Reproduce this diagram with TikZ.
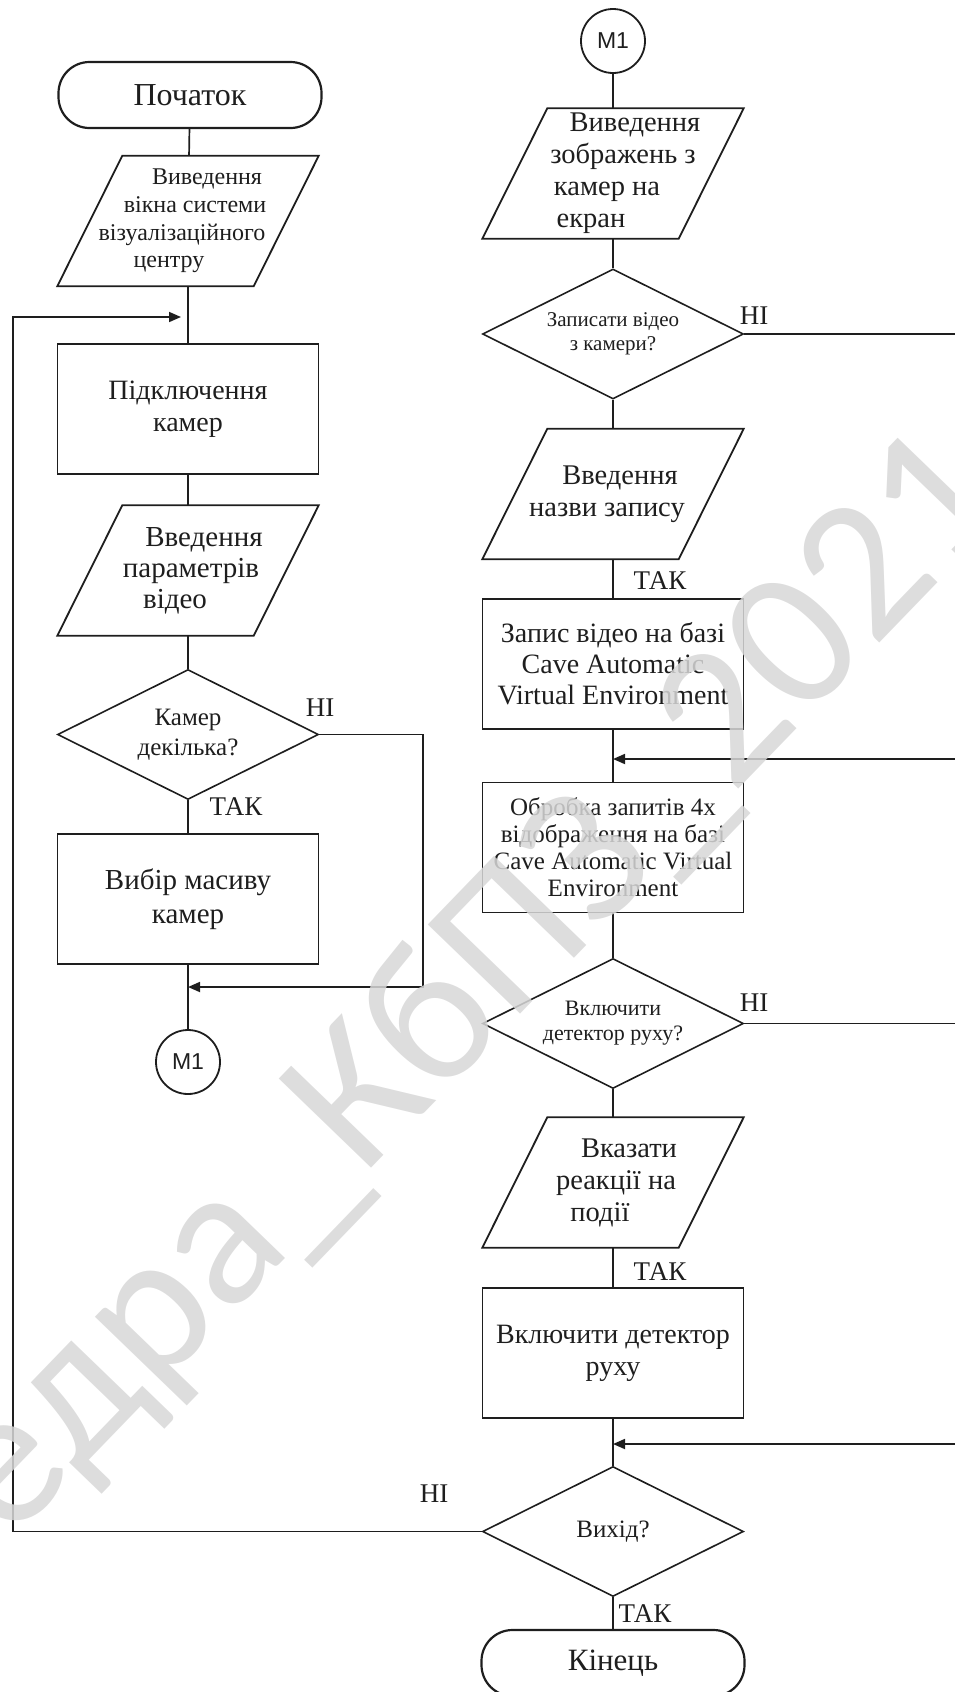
\documentclass[tikz,border=0pt]{standalone}
\usepackage{fontspec}
\setmainfont{Liberation Serif}
\newfontfamily\mfont{Liberation Sans}
\newfontfamily\wmfont{Carlito}
\usetikzlibrary{shapes.geometric,arrows.meta}
\definecolor{ink}{RGB}{30,30,30}
\definecolor{wmc}{RGB}{215,215,215}
\newcommand\sk[2]{\hbox{\kern#1pt\relax#2\kern-#1pt\relax}}
\begin{document}
\begin{tikzpicture}[x=1pt,y=-1pt,
  ln/.style={draw=ink, line width=1.8pt, text=ink},
  term/.style={ln, line width=2.2pt, rectangle, rounded corners=31pt, minimum width=263pt, minimum height=66pt, inner sep=0pt, font=\fontsize{32}{36}\selectfont},
  proc/.style={ln, rectangle, minimum width=261pt, minimum height=130pt, inner sep=0pt, align=center},
  io/.style={rectangle, text=ink, minimum width=261pt, minimum height=130pt, inner sep=0pt, align=center},
  dec/.style={ln, line width=1.6pt, diamond, aspect=2, minimum width=261pt, minimum height=130pt, inner sep=0pt, align=center},
  conn/.style={ln, circle, minimum size=64pt, inner sep=0pt, font=\mfont\fontsize{23}{26}\selectfont},
  lab/.style={text=ink, inner sep=0pt, font=\fontsize{27}{30}\selectfont},
  wire/.style={draw=ink, line width=1.7pt},
  arr/.style={wire, -{Triangle[length=12pt,width=10pt]}},
  f28/.style={font=\fontsize{28.5}{32}\selectfont},
]
\useasboundingbox (0,0) rectangle (955,1692);
\clip (0,0) rectangle (955,1692);

% left column
\node[term] (start) at (190,95) {Початок};
\node[io, font=\fontsize{24}{27.7}\selectfont] (p1) at (188,221)
  {\sk{19}{Виведення}\\\sk{7}{вікна системи}\\\sk{-6}{візуалізаційного}\\\sk{-19}{центру}};
\node[proc, font=\fontsize{28}{32}\selectfont] (r1) at (188,409) {Підключення\\камер};
\node[io, font=\fontsize{29}{31}\selectfont] (p2) at (188,570.5)
  {\sk{16}{Введення}\\\sk{3}{параметрів}\\\sk{-13}{відео}};
\node[dec, font=\fontsize{25}{30}\selectfont] (d1) at (188,734.5) {Камер\\декілька?};
\node[proc, font=\fontsize{29}{34}\selectfont] (r2) at (188,899) {Вибір масиву\\камер};
\node[conn] (m1) at (188,1062) {M1};

% right column
\node[conn] (m1t) at (613,41) {M1};
\node[io, f28] (p3) at (613,173.5)
  {\sk{22}{Виведення}\\\sk{10}{зображень з}\\\sk{-6}{камер на}\\\sk{-22}{екран}};
\node[dec, font=\fontsize{21}{24}\selectfont] (d2) at (613,334) {Записати відео\\з камери?};
\node[io, f28] (p4) at (613,494) {\sk{7}{Введення}\\\sk{-6}{назви запису}};
\node[proc, font=\fontsize{28}{31}\selectfont] (r3) at (613,664)
  {Запис відео на базі\\Cave Automatic\\Virtual Environment};
\node[proc, font=\fontsize{25}{27}\selectfont] (r4) at (613,847.5)
  {Обробка запитів 4х\\відображення на базі\\Cave Automatic Virtual\\Environment};
\node[dec, font=\fontsize{22}{25}\selectfont] (d3) at (613,1023.5) {Включити\\детектор руху?};
\node[io, f28] (p5) at (613,1182.5) {\sk{16}{Вказати}\\\sk{3}{реакції на}\\\sk{-13}{події}};
\node[proc, font=\fontsize{28}{32}\selectfont] (r5) at (613,1353) {Включити детектор\\руху};
\node[dec, font=\fontsize{25}{28}\selectfont] (d4) at (613,1531.5) {Вихід?};
\node[term, font=\fontsize{31}{35}\selectfont] (fin) at (613,1663) {Кінець};

% parallelogram outlines
\foreach \n in {p1,p2,p3,p4,p5}
  \draw[ln] ([xshift=65pt]\n.north west) -- (\n.north east) -- ([xshift=-65pt]\n.south east) -- (\n.south west) -- cycle;

% junction and bend points
\coordinate (j1) at (188,317);
\coordinate (j2) at (188,987);
\coordinate (j3) at (613,759);
\coordinate (j4) at (613,1444);
\coordinate (lb) at (13,1531.5);
\coordinate (lt) at (13,317);
\coordinate (c1) at (423,734.5);
\coordinate (c2) at (423,987);
\coordinate (c3) at (975,334);
\coordinate (c4) at (975,759);
\coordinate (c5) at (975,1023.5);
\coordinate (c6) at (975,1444);

% straight connectors
\draw[wire] (start) -- (p1);
\draw[wire] (p1) -- (r1);
\draw[wire] (r1) -- (p2);
\draw[wire] (p2) -- (d1);
\draw[wire] (d1) -- (r2);
\draw[wire] (r2) -- (m1);
\draw[wire] (m1t) -- (p3);
\draw[wire] (p3) -- (d2);
\draw[wire] (d2) -- (p4);
\draw[wire] (p4) -- (r3);
\draw[wire] (r3) -- (r4);
\draw[wire] (r4) -- (d3);
\draw[wire] (d3) -- (p5);
\draw[wire] (p5) -- (r5);
\draw[wire] (r5) -- (d4);
\draw[wire] (d4) -- (fin);

% loops
\draw[arr, shorten >=7pt] (d4.west) -- (lb) -- (lt) -- (j1);
\draw[arr] (d1.east) -- (c1) -- (c2) -- (j2);
\draw[arr] (d2.east) -- (c3) -- (c4) -- (j3);
\draw[arr] (d3.east) -- (c5) -- (c6) -- (j4);

% labels
\node[lab] (l1) at (320,708) {НІ};
\node[lab] (l2) at (236,807) {ТАК};
\node[lab] (l3) at (754,316) {НІ};
\node[lab] (l4) at (660,581) {ТАК};
\node[lab] (l5) at (754,1003) {НІ};
\node[lab] (l6) at (660,1272) {ТАК};
\node[lab] (l7) at (434,1494) {НІ};
\node[lab] (l8) at (645,1614) {ТАК};

% watermark
\node[rotate=46, anchor=base west, text=wmc, text opacity=0.85, inner sep=0pt,
      font=\wmfont\fontsize{200}{200}\selectfont] (wm) at (-219,1780) {Кафедра\_КбПЗ\_2021};
\end{tikzpicture}
\end{document}
